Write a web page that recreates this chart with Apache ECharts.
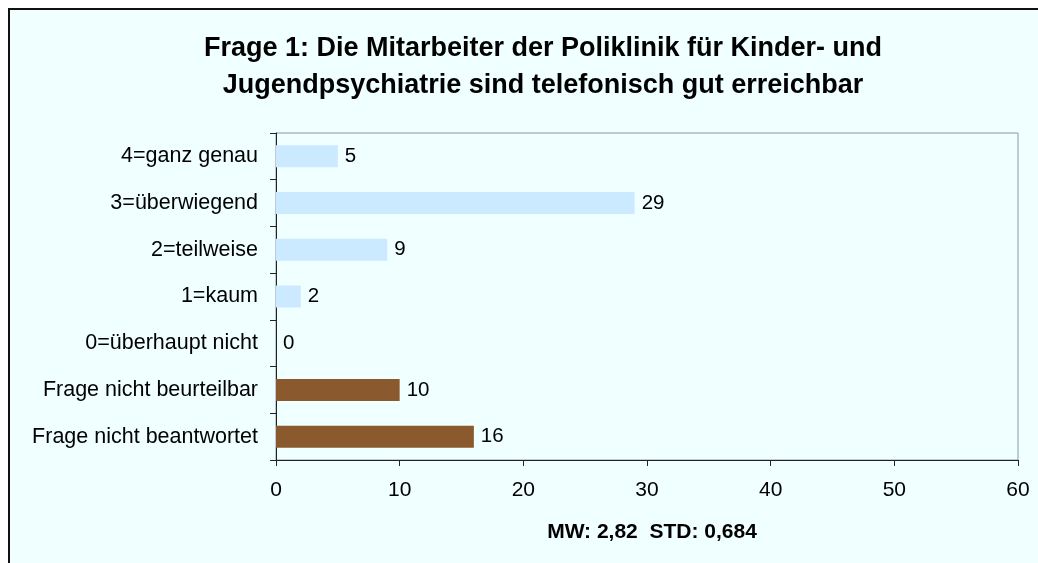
<!DOCTYPE html>
<html>
<head>
<meta charset="utf-8">
<script src="https://cdn.jsdelivr.net/npm/echarts@6/dist/echarts.min.js"></script>
<style>
    html, body { margin: 0; padding: 0; background: #ffffff; }
    #frame {
        position: absolute; left: 8px; top: 8px; width: 1040px; height: 570px;
        border-left: 2px solid #111; border-top: 2px solid #111;
        background: #f0ffff;
    }
    #chart { position: absolute; left: 0; top: 0; width: 1038px; height: 563px; }
</style>
</head>
<body>
<div id="frame"></div>
<div id="chart"></div>
<script>
const categories = ['4=ganz genau', '3=überwiegend', '2=teilweise', '1=kaum', '0=überhaupt nicht', 'Frage nicht beurteilbar', 'Frage nicht beantwortet'];
const counts = [5, 29, 9, 2, 0, 10, 16];
const barColors = ['#cceaff', '#cceaff', '#cceaff', '#cceaff', '#cceaff', '#8a5a2e', '#8a5a2e'];
const xTicks = [0, 10, 20, 30, 40, 50, 60];

const font = 'Liberation Sans, Arial, sans-serif';

const chart = echarts.init(document.getElementById('chart'));

chart.setOption({
    animation: false,
    title: [
        {
            text: 'Frage 1: Die Mitarbeiter der Poliklinik für Kinder- und\nJugendpsychiatrie sind telefonisch gut erreichbar',
            left: 538, top: 25, textAlign: 'center',
            textStyle: { fontFamily: font, fontSize: 27, fontWeight: 'bold', color: '#000', lineHeight: 37 }
        },
        {
            text: 'MW: 2,82  STD: 0,684',
            left: 647, top: 517, textAlign: 'center',
            textStyle: { fontFamily: font, fontSize: 21, fontWeight: 'bold', color: '#000' }
        }
    ],
    grid: {
        left: 276, top: 133, right: 20, bottom: 103,
        show: true, borderColor: '#8896a8', borderWidth: 1, backgroundColor: 'transparent'
    },
    xAxis: {
        type: 'value',
        min: xTicks[0], max: xTicks[xTicks.length - 1], interval: 10,
        axisLine: { show: true, lineStyle: { color: '#222', width: 1 } },
        axisTick: { show: true, length: 6, lineStyle: { color: '#222' } },
        splitLine: { show: false },
        axisLabel: { margin: 20, fontFamily: font, fontSize: 21, color: '#000' }
    },
    yAxis: {
        type: 'category',
        data: categories,
        inverse: true,
        axisLine: { show: true, lineStyle: { color: '#222', width: 1 } },
        axisTick: { show: true, length: 6, lineStyle: { color: '#222' } },
        axisLabel: { margin: 18, fontFamily: font, fontSize: 21.5, color: '#000' }
    },
    series: [{
        type: 'bar',
        barWidth: 22,
        data: counts.map((v, i) => ({ value: v, itemStyle: { color: barColors[i] } })),
        label: {
            show: true, position: 'right', distance: 7,
            fontFamily: font, fontSize: 20.5, color: '#000'
        }
    }]
});
</script>
</body>
</html>
